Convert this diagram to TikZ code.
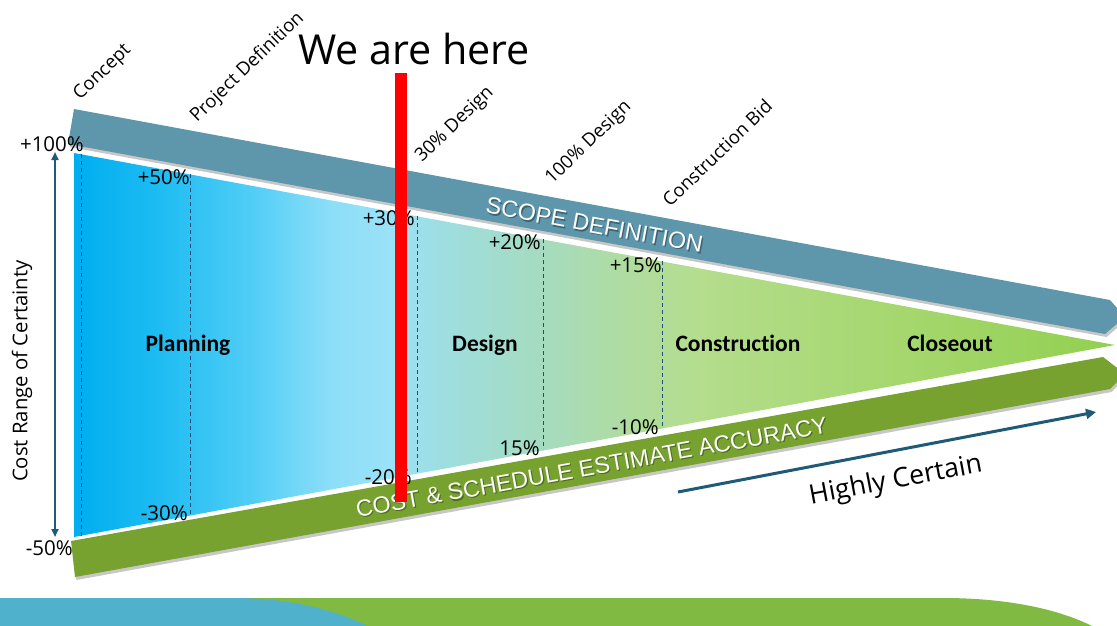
\documentclass[tikz,border=0pt]{standalone}
\usepackage{fontspec}
\setmainfont{Open Sans}
\newfontfamily\calfont[Ligatures=NoCommon]{Carlito}
\newfontfamily\arialfont{Liberation Sans}
\usetikzlibrary{arrows.meta}
\definecolor{scopeblue}{RGB}{94,151,172}
\definecolor{accgreen}{RGB}{119,162,47}
\definecolor{arrowteal}{RGB}{31,90,118}
\definecolor{dashblue}{RGB}{31,78,121}
\definecolor{bandblue}{RGB}{79,177,204}
\definecolor{bandgreen}{RGB}{128,186,66}
\definecolor{fcA}{RGB}{0,173,239}
\definecolor{fcB}{RGB}{30,188,242}
\definecolor{fcC}{RGB}{80,205,246}
\definecolor{fcD}{RGB}{140,222,248}
\definecolor{fcE}{RGB}{155,226,247}
\definecolor{fcF}{RGB}{158,222,225}
\definecolor{fcG}{RGB}{165,219,192}
\definecolor{fcH}{RGB}{175,220,162}
\definecolor{fcI}{RGB}{180,221,140}
\definecolor{fcK}{RGB}{165,215,110}
\definecolor{fcJ}{RGB}{146,208,80}
\pgfdeclarehorizontalshading{funnelshade}{100bp}{color(0bp)=(fcA); color(25bp)=(fcA); color(29.1bp)=(fcB); color(33.5bp)=(fcC); color(37.3bp)=(fcD); color(40.4bp)=(fcE); color(42.6bp)=(fcF); color(47.4bp)=(fcG); color(51.3bp)=(fcH); color(55.1bp)=(fcI); color(64.7bp)=(fcK); color(75bp)=(fcJ); color(100bp)=(fcJ)}
\tikzset{
  milestone/.style={rotate=44, anchor=base west, inner sep=0pt, font=\fontsize{18.5}{18.5}\selectfont},
  pct/.style={anchor=base east, inner sep=0pt, font=\fontsize{20.5}{20.5}\selectfont},
  phase/.style={anchor=base, inner sep=0pt, font=\calfont\bfseries\fontsize{23.5}{23.5}\selectfont},
  bartext/.style={anchor=base, inner sep=0pt, text=white, font=\arialfont\fontsize{23.3}{23.3}\selectfont},
  bartextshadow/.style={anchor=base, inner sep=0pt, text=black, opacity=0.35, font=\arialfont\fontsize{23.3}{23.3}\selectfont},
  phaseline/.style={draw=dashblue, line width=0.9pt, dash pattern=on 4pt off 3pt},
  tealarrow/.style={draw=arrowteal, line width=2pt},
}
\begin{document}
\begin{tikzpicture}[x=1pt,y=-1pt]
\useasboundingbox (0,0) rectangle (1117,626);
% bottom bands
\fill[bandgreen] (200,598) -- (943,598) .. controls (1010,598) and (1060,610) .. (1092,626) -- (200,626) -- cycle;
\fill[bandblue] (0,598) -- (233,598) .. controls (290,598) and (335,610) .. (367,626) -- (0,626) -- cycle;
% bar shadows
\begin{scope}[shift={(1.5,3)}]
\fill[black, opacity=0.22] (74,109) -- (1110,300) -- (1125,317) -- (1105,334) -- (68,144) -- cycle;
\fill[black, opacity=0.22] (71,541) -- (1103,357) -- (1125,374) -- (1110,389) -- (75,577) -- cycle;
\end{scope}
% bars
\fill[scopeblue] (74,109) -- (1110,300) -- (1125,317) -- (1105,334) -- (68,144) -- cycle;
\fill[accgreen] (71,541) -- (1103,357) -- (1125,374) -- (1110,389) -- (75,577) -- cycle;
% funnel
\shade[shading=funnelshade] (74,153) -- (1115,345) -- (74,537) -- cycle;
% dashed phase lines
\coordinate (d1t) at (81,154);  \coordinate (d1b) at (81,536);
\coordinate (d2t) at (190,174); \coordinate (d2b) at (190,515);
\coordinate (d3t) at (417,216); \coordinate (d3b) at (417,473);
\coordinate (d4t) at (543,239); \coordinate (d4b) at (543,449);
\coordinate (d5t) at (662,261); \coordinate (d5b) at (662,427);
\foreach \i in {1,...,5} { \draw[phaseline] (d\i t) -- (d\i b); }
% milestones
\node[milestone] (concept) at (80,101) {Concept};
\node[milestone] (projdef) at (197,123) {Project Definition};
\node[milestone] (design30) at (422,163) {30\% Design};
\node[milestone] (design100) at (552,185) {100\% Design};
\node[milestone] (bid) at (670,208) {Construction Bid};
% percentages
\node[pct] (p100) at (84,151) {+100\%};
\node[pct] (p50) at (190,184) {+50\%};
\node[pct] (p30) at (415,225) {+30\%};
\node[pct] (p20) at (541,249) {+20\%};
\node[pct] (p15) at (662,272) {+15\%};
\node[pct] (m50) at (73,555) {-50\%};
\node[pct] (m30) at (188,520) {-30\%};
\node[pct] (m20) at (412,484) {-20\%};
\node[pct] (m15) at (540,455) {15\%};
\node[pct] (m10) at (659,434) {-10\%};
% phases
\node[phase] (planning) at (188,351) {Planning};
\node[phase] (design) at (485,351) {Design};
\node[phase] (construction) at (738,351) {Construction};
\node[phase] (closeout) at (950,351) {Closeout};
% bar texts
\node[bartextshadow, rotate=-10.5] at (594.2,234.2) {SCOPE DEFINITION};
\node[bartext, rotate=-10.5] (scope) at (593,233) {SCOPE DEFINITION};
\node[bartextshadow, rotate=10.2] at (594.2,476.2) {COST \& SCHEDULE ESTIMATE ACCURACY};
\node[bartext, rotate=10.2] (accuracy) at (593,475) {COST \& SCHEDULE ESTIMATE ACCURACY};
% axis
\coordinate (vtop) at (55,152);
\coordinate (vbot) at (55,537);
\draw[tealarrow, {Triangle[length=8pt,width=7pt]}-{Triangle[length=8pt,width=7pt]}] (vbot) -- (vtop);
\node[rotate=90, anchor=center, inner sep=0pt, font=\fontsize{20.3}{20.3}\selectfont] (costrange) at (22,371) {Cost Range of Certainty};
% highly certain
\coordinate (hcs) at (678,492);
\coordinate (hce) at (1096,412);
\draw[draw=arrowteal, line width=3pt, -{Triangle[length=10pt,width=10pt]}] (hcs) -- (hce);
\node[rotate=10.7, anchor=base, inner sep=0pt, font=\fontsize{26.8}{26.8}\selectfont] (certain) at (897,488) {Highly Certain};
% we are here
\fill[red] (395,73) rectangle (407,502);
\node[anchor=base, inner sep=0pt, font=\fontsize{41.3}{41.3}\selectfont] (here) at (414,65) {We are here};
\end{tikzpicture}
\end{document}
